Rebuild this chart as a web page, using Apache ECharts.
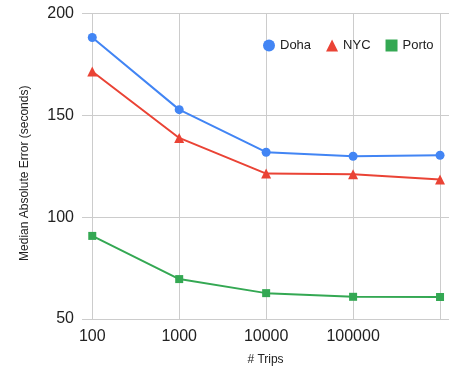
<!DOCTYPE html>
<html>
<head>
<meta charset="utf-8">
<script src="https://cdn.jsdelivr.net/npm/echarts@6/dist/echarts.min.js"></script>
<style>
  html, body { margin: 0; padding: 0; background: #fff; }
  #chart { width: 469px; height: 371px; }
</style>
</head>
<body>
<div id="chart"></div>
<script>
const trips = [100, 1000, 10000, 100000, 1000000]
const doha = [188.2, 152.8, 131.9, 129.9, 130.4]
const nyc = [171.5, 138.9, 121.4, 121.1, 118.5]
const porto = [90.8, 69.6, 62.7, 60.9, 60.8]
const shownLabels = [100, 1000, 10000, 100000]

const pairs = (ys) => trips.map((t, i) => [t, ys[i]])
const font = 'Liberation Sans, Arial, sans-serif'

const chart = echarts.init(document.getElementById('chart'))
chart.setOption({
  animation: false,
  color: ['#4285F4', '#EA4335', '#34A853'],
  grid: { left: 82, right: 20, top: 13.5, bottom: 51, containLabel: false },
  legend: {
    top: 34,
    left: 258,
    itemWidth: 12,
    itemHeight: 12,
    itemGap: 15,
    textStyle: { color: '#222', fontSize: 13, fontFamily: font },
    data: [
      { name: 'Doha', icon: 'circle' },
      { name: 'NYC', icon: 'triangle' },
      { name: 'Porto', icon: 'rect' },
    ],
  },
  xAxis: {
    type: 'log',
    logBase: 10,
    min: 76.2,
    max: 1268000,
    name: '# Trips',
    nameLocation: 'middle',
    nameGap: 35,
    nameTextStyle: { color: '#222', fontSize: 12, fontFamily: font },
    axisLine: { show: false },
    axisTick: { show: false },
    axisLabel: {
      color: '#222',
      fontSize: 16,
      fontFamily: font,
      margin: 10,
      showMinLabel: false,
      showMaxLabel: false,
      formatter: (v) => {
        const r = Math.round(v)
        return shownLabels.includes(r) ? String(r) : ''
      },
    },
    splitLine: {
      show: true,
      showMinLine: false,
      showMaxLine: false,
      lineStyle: { color: '#cccccc', width: 1 },
    },
  },
  yAxis: {
    type: 'value',
    min: 50,
    max: 200,
    interval: 50,
    name: 'Median Absolute Error (seconds)',
    nameLocation: 'middle',
    nameGap: 51,
    nameTextStyle: { color: '#222', fontSize: 12, fontFamily: font, padding: [0, 14, 0, 0] },
    axisLine: { show: false },
    axisTick: { show: false },
    axisLabel: { color: '#222', fontSize: 16, fontFamily: font, margin: 8 },
    splitLine: { lineStyle: { color: '#cccccc', width: 1 } },
  },
  series: [
    {
      name: 'Doha',
      type: 'line',
      data: pairs(doha),
      symbol: 'circle',
      symbolSize: 9,
      lineStyle: { width: 2 },
    },
    {
      name: 'NYC',
      type: 'line',
      data: pairs(nyc),
      symbol: 'triangle',
      symbolSize: 10,
      lineStyle: { width: 2 },
    },
    {
      name: 'Porto',
      type: 'line',
      data: pairs(porto),
      symbol: 'rect',
      symbolSize: 8,
      lineStyle: { width: 2 },
    },
  ],
})
</script>
</body>
</html>
